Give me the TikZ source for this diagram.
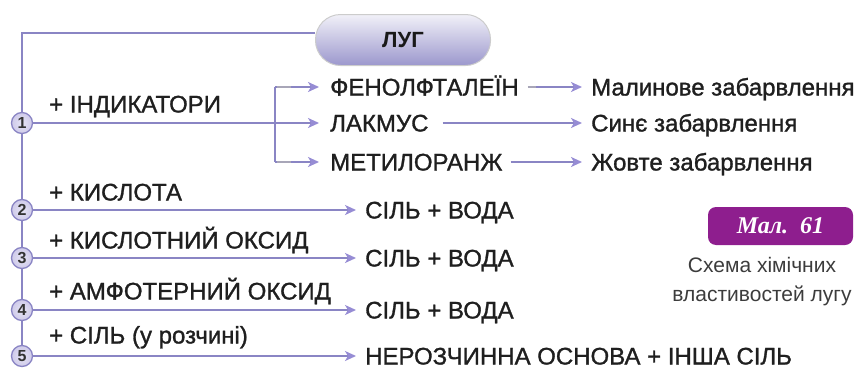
\documentclass[tikz,border=0pt]{standalone}
\usepackage{fontspec}
\setmainfont{Liberation Sans}
\newfontfamily\medfont{Liberation Sans}[FakeBold=1.2]
\newfontfamily\capfont{Liberation Serif}
\usetikzlibrary{arrows.meta,calc}
\definecolor{ln}{HTML}{8A85C4}
\definecolor{arr}{HTML}{968CD4}
\definecolor{cfill}{HTML}{D6D2EE}
\definecolor{purp}{HTML}{8E1E8E}
\definecolor{capg}{HTML}{3C3C3C}
\definecolor{stub}{HTML}{A8A6B8}
\begin{document}
\begin{tikzpicture}[x=1pt,y=1pt,
  conn/.style={draw=ln, line width=1.7pt},
  arrowc/.style={conn, -{Stealth[length=11pt,width=10pt,inset=3pt,color=arr]}, shorten >=9pt},
  lbl/.style={anchor=west, inner sep=0pt, text height=17pt, text depth=0pt, font=\medfont\fontsize{24}{26}\selectfont, text=black!88},
  num/.style={circle, draw=ln, inner color=cfill!60, outer color=cfill!90!ln, line width=1.3pt, minimum size=21pt, inner sep=0pt, font=\bfseries\fontsize{16}{16}\selectfont, text=black!80},
  fade/.style={draw=stub, line width=1.7pt}
]
\useasboundingbox (0,0) rectangle (858,368);
\clip (0,0) rectangle (858,368);

% main box
\node[rounded corners=25pt, minimum width=175pt, minimum height=51pt, top color=ln!12, bottom color=ln!85, draw=gray!40, line width=1pt, font=\bfseries\fontsize{22}{24}\selectfont, text=black!90] (luh) at (403,328) {ЛУГ};

% numbered circles
\node[num] (c1) at (22,245) {1};
\node[num] (c2) at (22,158) {2};
\node[num] (c3) at (22,110) {3};
\node[num] (c4) at (22,58) {4};
\node[num] (c5) at (22,12) {5};

% labels
\node[lbl] (ind) at (49,264) {+ ІНДИКАТОРИ};
\node[lbl] (fen) at (330,281) {ФЕНОЛФТАЛЕЇН};
\node[lbl] (lak) at (330,245) {ЛАКМУС};
\node[lbl] (met) at (330,206) {МЕТИЛОРАНЖ};
\node[lbl] (mal) at (591,281) {Малинове забарвлення};
\node[lbl] (syn) at (591,245) {Синє забарвлення};
\node[lbl] (zhov) at (591,206) {Жовте забарвлення};
\node[lbl] (kys) at (49,176) {+ КИСЛОТА};
\node[lbl] (s1) at (365,158) {СІЛЬ + ВОДА};
\node[lbl] (ko) at (49,128) {+ КИСЛОТНИЙ ОКСИД};
\node[lbl] (s2) at (365,110) {СІЛЬ + ВОДА};
\node[lbl] (ao) at (49,77) {+ АМФОТЕРНИЙ ОКСИД};
\node[lbl] (s3) at (365,58) {СІЛЬ + ВОДА};
\node[lbl] (sil) at (49,33) {+ СІЛЬ (у розчині)};
\node[lbl] (ner) at (365,12) {НЕРОЗЧИННА ОСНОВА + ІНША СІЛЬ};

% connectors
\coordinate (tl) at (22,335);
\draw[conn] (luh.west |- tl) -- (tl) -- (c1.north);
\draw[conn] (c1) -- (c2) -- (c3) -- (c4) -- (c5);
\coordinate (bt) at (275,281);
\coordinate (bb) at (275,206);
\draw[conn] (bt) -- (bb);
\draw[arrowc, shorten >=11pt] (bt) -- (fen.west);
\draw[arrowc, shorten >=11pt] (bb) -- (met.west);
\draw[fade] ($(bt)+(2,0)$) -- ($(bt)+(16,0)$);
\draw[fade] ($(bb)+(2,0)$) -- ($(bb)+(16,0)$);
\draw[arrowc, shorten >=11pt] (c1.east) -- (lak.west);
\draw[arrowc, shorten <=9pt] (fen.east) -- (mal.west);
\draw[fade] ($(fen.east)+(9,0)$) -- ($(fen.east)+(17,0)$);
\draw[arrowc, shorten <=14pt] (lak.east) -- (syn.west);
\draw[arrowc, shorten <=8pt] (met.east) -- (zhov.west);
\draw[arrowc] (c2.east) -- (s1.west);
\draw[arrowc] (c3.east) -- (s2.west);
\draw[arrowc] (c4.east) -- (s3.west);
\draw[arrowc] (c5.east) -- (ner.west);

% figure caption
\node[rounded corners=8pt, fill=purp, minimum width=145pt, minimum height=38pt, text=white, font=\capfont\bfseries\itshape\fontsize{24}{26}\selectfont] (fig) at (780.5,142) {Мал.~~61};
\node[inner sep=0pt, align=center, text=capg, font=\fontsize{21}{29}\selectfont] (cap) at (762,86) {Схема хімічних\\властивостей лугу};
\end{tikzpicture}
\end{document}
